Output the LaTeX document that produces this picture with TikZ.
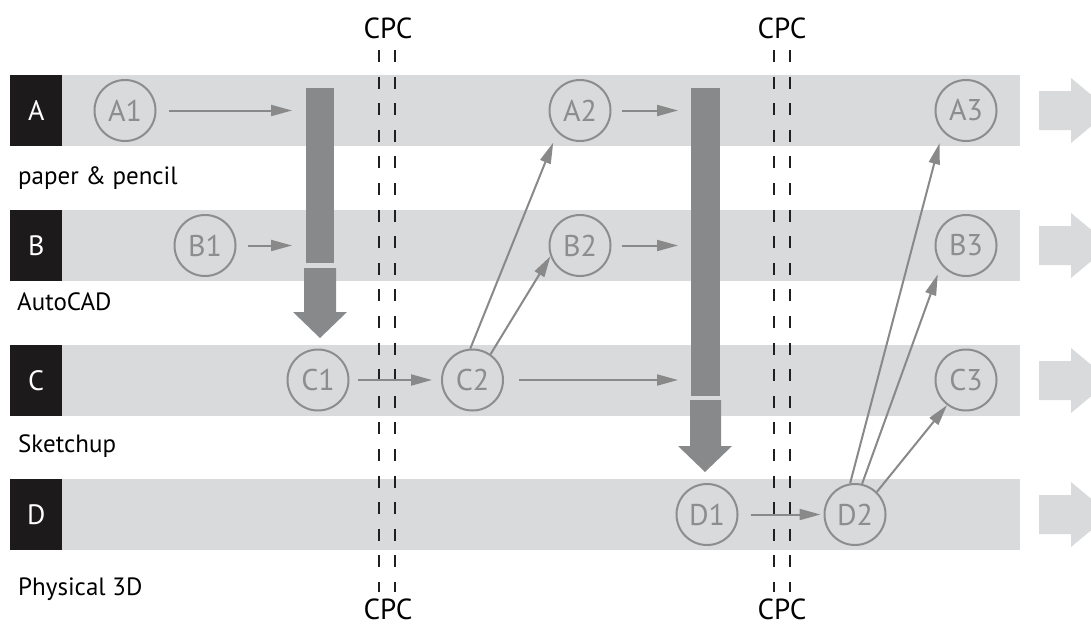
\documentclass[tikz,border=0pt]{standalone}
\usepackage{fontspec}
\setmainfont{PT Sans}
\usetikzlibrary{arrows.meta}
\definecolor{bandgray}{HTML}{D9DADB}
\definecolor{bargray}{HTML}{88898B}
\definecolor{circgray}{HTML}{8D8D8D}
\definecolor{linegray}{HTML}{898989}
\definecolor{boxblack}{HTML}{1C1A1B}
\definecolor{dashblack}{HTML}{231F20}
\tikzset{
  bandbox/.style={fill=bandgray, draw=none, minimum width=1010pt, minimum height=71pt, inner sep=0, anchor=north west},
  letterbox/.style={fill=boxblack, draw=none, minimum width=52pt, minimum height=71pt, inner sep=0, anchor=north west, text=white, font=\fontsize{28}{28}\selectfont},
  sidelabel/.style={anchor=base west, inner sep=0, text=black, font=\fontsize{25}{25}\selectfont},
  stage/.style={circle, draw=circgray, line width=2pt, minimum size=61pt, inner sep=0, text=circgray, font=\fontsize{30}{30}\selectfont},
  conn/.style={draw=linegray, line width=2pt, -{Triangle[length=21pt,width=11pt]}},
  barbox/.style={fill=bargray, draw=none, inner sep=0, anchor=north west},
  bigarrow/.style={fill=bargray, draw=none},
  cpcline/.style={draw=dashblack, line width=2.8pt, dash pattern=on 12pt off 14.6pt},
  cpclabel/.style={inner sep=0, text=black, font=\fontsize{29}{29}\selectfont},
  outarrow/.style={fill=bandgray, draw=none}
}
\begin{document}
\begin{tikzpicture}[x=1pt,y=-1pt]
\useasboundingbox (0,0) rectangle (1091,627);
% bands
\node[bandbox] (bandA) at (10,75) {};
\node[bandbox] (bandB) at (10,210) {};
\node[bandbox] (bandC) at (10,345) {};
\node[bandbox] (bandD) at (10,479) {};
\node[letterbox] (boxA) at (10,75) {A};
\node[letterbox] (boxB) at (10,210) {B};
\node[letterbox] (boxC) at (10,345) {C};
\node[letterbox] (boxD) at (10,479) {D};
\node[sidelabel] (labA) at (18,184) {paper \& pencil};
\node[sidelabel] (labB) at (17,310) {AutoCAD};
\node[sidelabel] (labC) at (18,452) {Sketchup};
\node[sidelabel] (labD) at (18,595) {Physical 3D};
% output arrows on the right
\foreach \yc in {110.5,245.5,380.5,514.5}{
  \fill[outarrow] (1039,\yc-19.5) -- (1071,\yc-19.5) -- (1071,\yc-32.5) -- (1110,\yc) -- (1071,\yc+32.5) -- (1071,\yc+19.5) -- (1039,\yc+19.5) -- cycle;
}
% bars and big arrows
\node[barbox, minimum width=28pt, minimum height=175pt] (bar1) at (306,88) {};
\node[barbox, minimum width=29pt, minimum height=308pt] (bar2) at (691,88) {};
\fill[bigarrow] (304,268) -- (336,268) -- (336,312) -- (347,312) -- (320,338) -- (293,312) -- (304,312) -- cycle;
\fill[bigarrow] (690,400) -- (721,400) -- (721,446) -- (732,446) -- (705,472) -- (678,446) -- (690,446) -- cycle;
% CPC dashed lines
\coordinate (p1at) at (379,50); \coordinate (p1ab) at (379,592);
\coordinate (p1bt) at (395,50); \coordinate (p1bb) at (395,592);
\coordinate (p2at) at (774,50); \coordinate (p2ab) at (774,592);
\coordinate (p2bt) at (790,50); \coordinate (p2bb) at (790,592);
\draw[cpcline] (p1at) -- (p1ab);
\draw[cpcline] (p1bt) -- (p1bb);
\draw[cpcline] (p2at) -- (p2ab);
\draw[cpcline] (p2bt) -- (p2bb);
\node[cpclabel] (cpc1t) at (388,28) {CPC};
\node[cpclabel] (cpc1b) at (388,609) {CPC};
\node[cpclabel] (cpc2t) at (782,28) {CPC};
\node[cpclabel] (cpc2b) at (782,609) {CPC};
% stages
\node[stage] (A1) at (125,110.5) {A1};
\node[stage] (B1) at (205,245.5) {B1};
\node[stage] (C1) at (318,380) {C1};
\node[stage] (C2) at (472.5,380) {C2};
\node[stage] (A2) at (580,110.5) {A2};
\node[stage] (B2) at (580,245.5) {B2};
\node[stage] (D1) at (707,514.5) {D1};
\node[stage] (D2) at (855,514.5) {D2};
\node[stage] (A3) at (966,110.5) {A3};
\node[stage] (B3) at (966,245.5) {B3};
\node[stage] (C3) at (966,380) {C3};
% connectors
\draw[conn, shorten <=12pt, shorten >=14pt] (A1) -- (A1 -| bar1.west);
\draw[conn, shorten <=11pt, shorten >=14pt] (B1) -- (B1 -| bar1.west);
\draw[conn, shorten <=8pt, shorten >=9pt] (C1) -- (C2);
\draw[conn, shorten <=10pt, shorten >=13pt] (A2) -- (A2 -| bar2.west);
\draw[conn, shorten <=10pt, shorten >=13pt] (B2) -- (B2 -| bar2.west);
\draw[conn, shorten <=15pt, shorten >=13pt] (C2) -- (C2 -| bar2.west);
\draw[conn, shorten >=11pt] (C2.94) -- (A2.224);
\draw[conn] (C2.55) -- (B2.200);
\draw[conn, shorten <=12pt, shorten >=3pt] (D1) -- (D2);
\draw[conn, shorten >=12pt] (D2.99) -- (A3.222);
\draw[conn, shorten >=10pt] (D2.77) -- (B3.218);
\draw[conn] (D2.46) -- (C3.233);
\end{tikzpicture}
\end{document}
